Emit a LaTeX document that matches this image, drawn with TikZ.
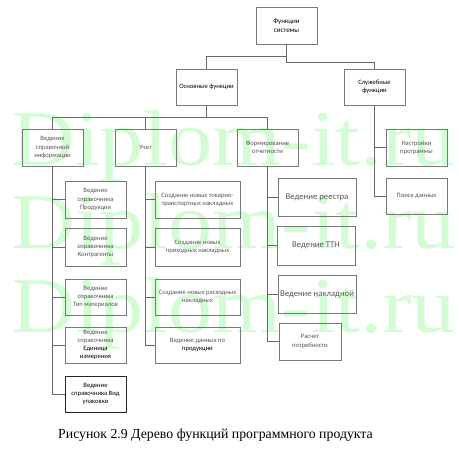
\documentclass[tikz,border=0pt]{standalone}
\usepackage{fontspec}
\setmainfont{Liberation Serif}
\newfontfamily\boxfont{Carlito}
\definecolor{boxgray}{RGB}{120,120,120}
\definecolor{linegray}{RGB}{105,105,105}
\definecolor{txtgray}{RGB}{85,85,85}
\definecolor{wmgreen}{RGB}{212,252,212}
\tikzset{
  fbox/.style={draw=boxgray, line width=0.6pt, minimum width=61pt, minimum height=37pt,
    inner sep=1pt, align=center, text=txtgray, font=\boxfont\fontsize{6.6}{8.2}\selectfont},
  widebox/.style={fbox, minimum width=85pt},
  bigbox/.style={fbox, minimum width=78pt, minimum height=38pt, font=\boxfont\fontsize{8.7}{10}\selectfont},
  headbox/.style={fbox, text=black},
  conn/.style={draw=linegray, line width=0.7pt},
  wm/.style={text=wmgreen, font=\fontsize{79}{79}\selectfont, anchor=base west, inner sep=0pt}
}
\begin{document}
\begin{tikzpicture}[x=1pt,y=-1pt]
\fill[white] (0,0) rectangle (458,460);
\useasboundingbox (0,0) rectangle (458,460);
% watermark
\node[wm] (wm1) at (11,165) {\scalebox{1.12}[1]{Diplom-it.ru}};
\node[wm] (wm2) at (11,248) {\scalebox{1.12}[1]{Diplom-it.ru}};
\node[wm] (wm3) at (11,332) {\scalebox{1.12}[1]{Diplom-it.ru}};
% level 0,1
\node[headbox, font=\boxfont\fontsize{7}{8.6}\selectfont] (top) at (286.5,25.5) {Функции\\системы};
\node[headbox, minimum height=36pt] (osn) at (206.5,87) {Основные функции};
\node[headbox, minimum height=36pt] (slu) at (374.5,87) {Служебные\\функции};
% level 2
\node[fbox] (spr) at (52.5,147.5) {Ведение\\справочной\\информации};
\node[fbox] (uch) at (145.5,147.5) {Учет};
\node[fbox] (frm) at (267.5,147.5) {Формирование\\отчетности};
\node[fbox] (nas) at (416.5,147.5) {Настройки\\программы};
\node[fbox, minimum height=36pt] (poi) at (416.5,196) {Поиск данных};
% spravochniki
\node[fbox] (prod) at (95.5,199.5) {Ведение\\справочника\\Продукция};
\node[fbox, minimum height=38pt] (kon) at (95.5,247) {Ведение\\справочника\\Контрагенты};
\node[fbox, minimum height=36pt] (tip) at (95.5,297) {Ведение\\справочника\\Тип материалов};
\node[fbox, minimum height=36pt] (edi) at (95.5,345) {Ведение\\справочника\\\textcolor{black}{Единица}\\\textcolor{black}{измерения}};
\node[fbox, minimum height=36pt, draw=black!85, text=black] (vid) at (95.5,394) {Ведение\\справочника Вид\\упаковки};
% uchet
\node[widebox] (c1) at (197.5,199.5) {Создание новых товарно-\\транспортных накладных};
\node[widebox, minimum height=38pt] (c2) at (197.5,247) {Создание новых\\приходных накладных};
\node[widebox, minimum height=36pt] (c3) at (197.5,297) {Создание новых расходных\\накладных};
\node[widebox, minimum height=36pt] (c4) at (197.5,345) {Ведение данных по\\\textcolor{black}{продукции}};
% otchetnost
\node[bigbox] (ree) at (317,197) {Ведение реестра};
\node[bigbox, minimum height=39pt] (ttn) at (316,245.5) {Ведение ТТН};
\node[bigbox] (nak) at (317,294) {Ведение накладной};
\node[fbox, minimum width=62pt] (ras) at (310,341.5) {Расчет\\потребности};
% connectors
\draw[conn] (top.south) -- ++(0,12) -| (osn.north);
\draw[conn] (top.south) -- ++(0,18) -| (slu.north);
\draw[conn] (osn.south) -- ++(0,12) -| (spr.north);
\draw[conn] (osn.south) -- ++(0,12) -| (uch.north);
\draw[conn] (osn.south) -- ++(0,12) -| (frm.north);
\foreach \c in {prod,kon,tip,edi,vid} \draw[conn] (spr.south) |- (\c.west);
\foreach \c in {c1,c2,c3,c4} \draw[conn] (uch.south) |- (\c.west);
\foreach \c in {ree,ttn,nak,ras} \draw[conn] (frm.south) |- (\c.west);
\foreach \c in {nas,poi} \draw[conn] (slu.south) |- (\c.west);
% caption
\node[font=\fontsize{13.8}{16}\selectfont, anchor=base, inner sep=0pt] (cap) at (215.5,438) {Рисунок 2.9 Дерево функций программного продукта};
\end{tikzpicture}
\end{document}
